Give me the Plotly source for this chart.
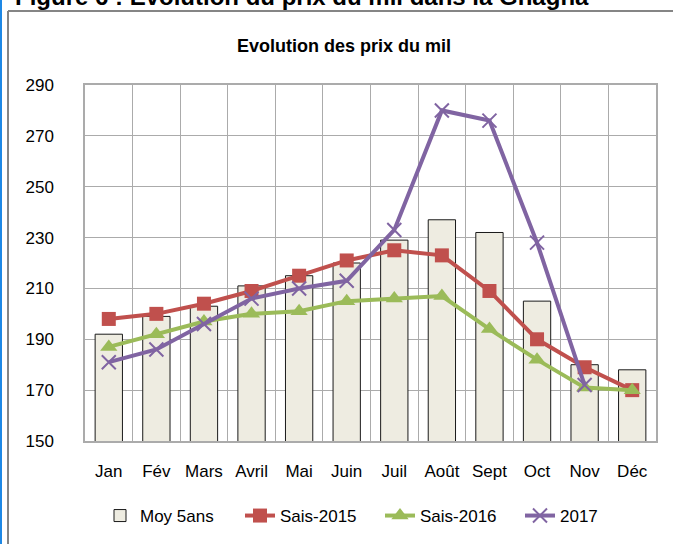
import plotly.graph_objects as go

months = ["Jan", "Fév", "Mars", "Avril", "Mai", "Juin", "Juil", "Août", "Sept", "Oct", "Nov", "Déc"]
moy_5ans = [192, 199, 203, 211, 215, 220, 229, 237, 232, 205, 180, 178]
sais_2015 = [198, 200, 204, 209, 215, 221, 225, 223, 209, 190, 179, 170]
sais_2016 = [187, 192, 197, 200, 201, 205, 206, 207, 194, 182, 171, 170]
y2017 = [181, 186, 196, 206, 210, 213, 233, 280, 276, 228, 172, None]

y_ticks = [150, 170, 190, 210, 230, 250, 270, 290]

W, H = 673, 544
L, R, T, B = 85, 17, 85, 103
PW = W - L - R
PH = H - T - B


def px_x(p):
    return (p - L) / PW


def px_y(p):
    return (H - B - p) / PH


FONT = "Liberation Sans, Arial, sans-serif"
GRID = "#ABABAB"

fig = go.Figure()
fig.add_trace(go.Bar(
    x=months, y=moy_5ans, name="Moy 5ans", width=0.574,
    marker=dict(color="#EEECE1", line=dict(color="#1A1A1A", width=1)),
))
fig.add_trace(go.Scatter(
    x=months, y=sais_2015, name="Sais-2015", mode="lines+markers",
    line=dict(color="#C0504D", width=4),
    marker=dict(symbol="square", size=14, color="#C0504D"),
))
fig.add_trace(go.Scatter(
    x=months, y=sais_2016, name="Sais-2016", mode="lines+markers",
    line=dict(color="#9BBB59", width=4),
    marker=dict(symbol="triangle-up", size=15, color="#9BBB59"),
))
fig.add_trace(go.Scatter(
    x=months, y=y2017, name="2017", mode="lines+markers",
    line=dict(color="#8064A2", width=4),
    marker=dict(symbol="x-thin", size=14, color="#8064A2",
                line=dict(color="#8064A2", width=2)),
))

fig.update_layout(
    width=W, height=H,
    margin=dict(l=L, r=R, t=T, b=B, autoexpand=False),
    paper_bgcolor="white", plot_bgcolor="white",
    font=dict(family=FONT, size=17, color="#000000"),
    title=dict(text="<b>Evolution des prix du mil</b>",
               font=dict(family=FONT, size=18, color="#000"),
               xref="container", x=344 / W, xanchor="center",
               yref="container", y=1 - 46 / H, yanchor="middle"),
    showlegend=True,
    legend=dict(orientation="h", x=px_x(100), xanchor="left",
                y=px_y(516), yanchor="middle",
                entrywidth=95, entrywidthmode="pixels",
                font=dict(family=FONT, size=17), bgcolor="rgba(0,0,0,0)",
                traceorder="normal"),
)
fig.update_xaxes(
    type="category", tickson="boundaries", showgrid=True, gridcolor=GRID, gridwidth=1,
    showline=True, linecolor=GRID, linewidth=1.5, mirror=True,
    ticks="", ticklabelstandoff=14, tickfont=dict(size=17),
    range=[-0.5, 11.5],
)
fig.update_yaxes(
    range=[150, 290], tickvals=y_ticks, showgrid=True, gridcolor=GRID, gridwidth=1,
    showline=True, linecolor=GRID, linewidth=1.5, mirror=True,
    ticks="", ticklabelstandoff=26, tickfont=dict(size=17), zeroline=False,
)

# header text from the document (partially cut at top)
fig.add_annotation(
    text="<b>Figure 6 : Evolution du prix du mil dans la Ghagha</b>",
    xref="paper", yref="paper", x=px_x(13), y=px_y(12),
    xanchor="left", yanchor="bottom", showarrow=False,
    font=dict(family=FONT, size=24, color="#000"),
)
# chart frame and page border
fig.add_shape(type="line", xref="paper", yref="paper",
              x0=px_x(8), x1=px_x(W + 5), y0=px_y(11), y1=px_y(11),
              line=dict(color="#858585", width=2))
fig.add_shape(type="line", xref="paper", yref="paper",
              x0=px_x(8), x1=px_x(8), y0=px_y(11), y1=px_y(H + 5),
              line=dict(color="#858585", width=2))
fig.add_shape(type="line", xref="paper", yref="paper",
              x0=px_x(1), x1=px_x(1), y0=px_y(-5), y1=px_y(H + 5),
              line=dict(color="#1E88E5", width=2))

fig.write_html("out.html", config={"displayModeBar": False},
               post_script="document.body.style.margin='0';document.body.style.overflow='hidden';")
